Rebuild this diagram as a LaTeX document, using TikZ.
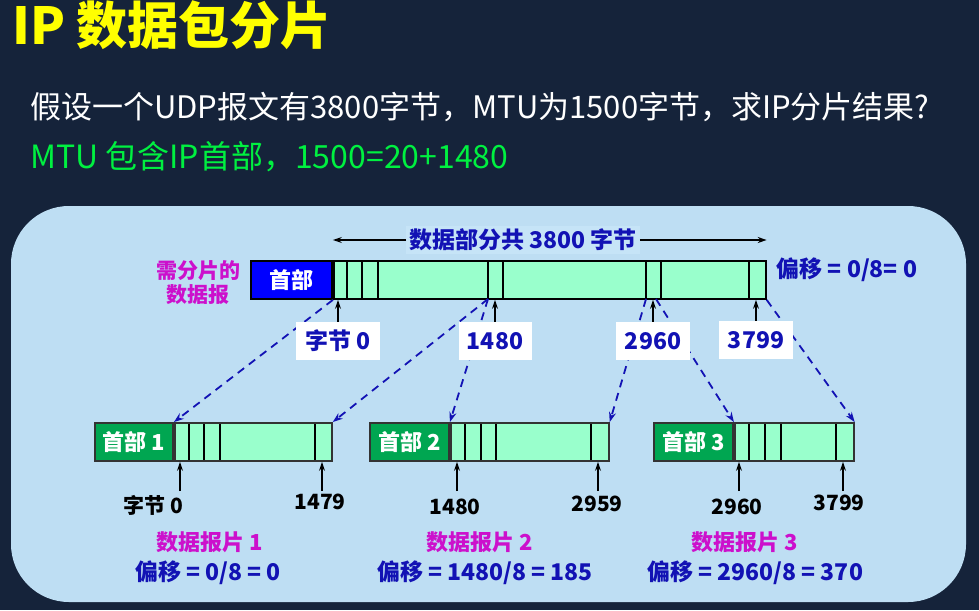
\documentclass[tikz,border=0pt]{standalone}
\usepackage{fontspec}
\setmainfont{Noto Sans CJK SC}
\usepackage{tikz}
\usetikzlibrary{arrows.meta}
\definecolor{slidebg}{HTML}{15233A}
\definecolor{panelbg}{HTML}{BEDEF3}
\definecolor{spanbg}{HTML}{C6E4F7}
\definecolor{titleyellow}{HTML}{FFFF00}
\definecolor{notegreen}{HTML}{00F040}
\definecolor{textblue}{HTML}{1212B4}
\definecolor{pinkish}{HTML}{CC10CC}
\definecolor{hdrblue}{HTML}{0000FF}
\definecolor{hdrgreen}{HTML}{00A651}
\definecolor{datagreen}{HTML}{99FFCC}
\tikzset{
  hdrbox/.style   = {draw=black!80,line width=1.8pt,minimum height=38pt,inner sep=0pt,
                     text=white,font=\bfseries\fontsize{22}{24}\selectfont},
  databox/.style  = {draw=black!80,line width=1.8pt,fill=datagreen,minimum height=38pt,inner sep=0pt,anchor=west},
  divline/.style  = {black,line width=2pt},
  numbox/.style   = {fill=white,minimum height=38pt,inner sep=0pt,text=textblue,
                     font=\bfseries\fontsize{23}{25}\selectfont},
  uparr/.style    = {-{Stealth[length=9pt,width=6pt]},line width=2pt,black},
  fragarr/.style  = {-{Stealth[length=10pt,width=7pt]},dash pattern=on 8pt off 6pt,
                     line width=1.8pt,textblue},
  bytelbl/.style  = {font=\bfseries\fontsize{21}{23}\selectfont,text=black},
  fraglbl/.style  = {font=\bfseries\fontsize{22}{24}\selectfont,text=pinkish},
  offlbl/.style   = {font=\bfseries\fontsize{23}{25}\selectfont,text=textblue}
}

\begin{document}
\begin{tikzpicture}[x=1pt,y=-1pt]
  \useasboundingbox (0,0) rectangle (979,610);
  \fill[slidebg] (0,0) rectangle (979,610);
  \fill[panelbg,rounded corners=58pt] (11,206) rectangle (966,602);

  % heading and question
  \node[anchor=west,inner sep=0pt,titleyellow,font=\bfseries\fontsize{51}{55}\selectfont] (title) at (12,25) {IP 数据包分片};
  \node[anchor=west,inner sep=0pt,white,font=\fontsize{31}{34}\selectfont] (question) at (30,107)
    {假设一个UDP报文有3800字节，MTU为1500字节，求IP分片结果?};
  \node[anchor=west,inner sep=0pt,notegreen,font=\fontsize{32}{35}\selectfont] (hint) at (30,157)
    {MTU 包含IP首部，1500=20+1480};

  % datagram to be fragmented
  \node[hdrbox,fill=hdrblue,draw=black,minimum width=81pt] (dgh) at (291.5,280) {首部};
  \node[databox,draw=black,minimum width=432pt] (dgd) at (dgh.east) {};
  \foreach \x in {347,362,378,488,503,646,661,749}
    \draw[divline] (\x,261) -- (\x,299);
  \node[align=center,text=pinkish,font=\bfseries\fontsize{21}{24}\selectfont] (dglbl) at (198,283) {需分片的\\数据报};
  \node[anchor=west,offlbl] (dgoff) at (773,270) {偏移 = 0/8= 0};

  \node[fill=spanbg,inner sep=3pt,offlbl] (span) at (523,240) {数据部分共 3800 字节};
  \draw[-{Stealth[length=9pt,width=6pt]},line width=1.4pt] (span.west) -- (span.west -| dgd.west);
  \draw[-{Stealth[length=9pt,width=6pt]},line width=1.4pt] (span.east) -- (span.east -| dgd.east);

  % fragments
  \node[hdrbox,fill=hdrgreen,minimum width=78pt] (f1h) at (134,442) {首部 1};
  \node[databox,minimum width=157pt] (f1d) at (f1h.east) {};
  \foreach \x in {189,204,220,315}
    \draw[divline] (\x,424) -- (\x,460);

  \node[hdrbox,fill=hdrgreen,minimum width=79pt] (f2h) at (409.5,442) {首部 2};
  \node[databox,minimum width=158pt] (f2d) at (f2h.east) {};
  \foreach \x in {465,481,496,591}
    \draw[divline] (\x,424) -- (\x,460);

  \node[hdrbox,fill=hdrgreen,minimum width=79pt] (f3h) at (693.5,442) {首部 3};
  \node[databox,minimum width=119pt] (f3d) at (f3h.east) {};
  \foreach \x in {749,765,781,836}
    \draw[divline] (\x,424) -- (\x,460);

  % where each fragment comes from
  \coordinate (cut1) at (488,299);
  \coordinate (cut2a) at (646,299);
  \coordinate (cut2b) at (656,299);
  \draw[fragarr] (dgd.south west) -- (f1d.north west);
  \draw[fragarr] (cut1) -- (f1d.north east);
  \draw[fragarr] (cut1) -- (f2d.north west);
  \draw[fragarr] (cut2a) -- (f2d.north east);
  \draw[fragarr] (cut2b) -- (f3d.north west);
  \draw[fragarr] (dgd.south east) -- (f3d.north east);

  \node[numbox,minimum width=84pt] (b0) at (338,341) {字节 0};
  \node[numbox,minimum width=73pt] (b1480) at (495,341) {1480};
  \node[numbox,minimum width=74pt] (b2960) at (653,341) {2960};
  \node[numbox,minimum width=74pt] (b3799) at (756,340) {3799};
  \foreach \n in {b0,b1480,b2960,b3799}
    \draw[uparr] (\n.north) -- (\n.north |- dgd.south);

  % byte numbers under the fragments
  \node[bytelbl] (f1a) at (153,505) {字节 0};
  \node[bytelbl] (f1b) at (320,502) {1479};
  \node[bytelbl] (f2a) at (455,507) {1480};
  \node[bytelbl] (f2b) at (597,504) {2959};
  \node[bytelbl] (f3a) at (737,507) {2960};
  \node[bytelbl] (f3b) at (839,503) {3799};
  \foreach \x/\f in {180/f1d,322/f1d,457/f2d,598/f2d,739/f3d,843/f3d}{
    \coordinate (tail) at (\x,491);
    \draw[uparr] (tail) -- (tail |- \f.south);
  }

  \node[fraglbl] (f1n) at (210,542) {数据报片 1};
  \node[offlbl] (f1o) at (208,573) {偏移 = 0/8 = 0};
  \node[fraglbl] (f2n) at (480,542) {数据报片 2};
  \node[offlbl] (f2o) at (485,573) {偏移 = 1480/8 = 185};
  \node[fraglbl] (f3n) at (745,542) {数据报片 3};
  \node[offlbl] (f3o) at (755,573) {偏移 = 2960/8 = 370};
\end{tikzpicture}
\end{document}
